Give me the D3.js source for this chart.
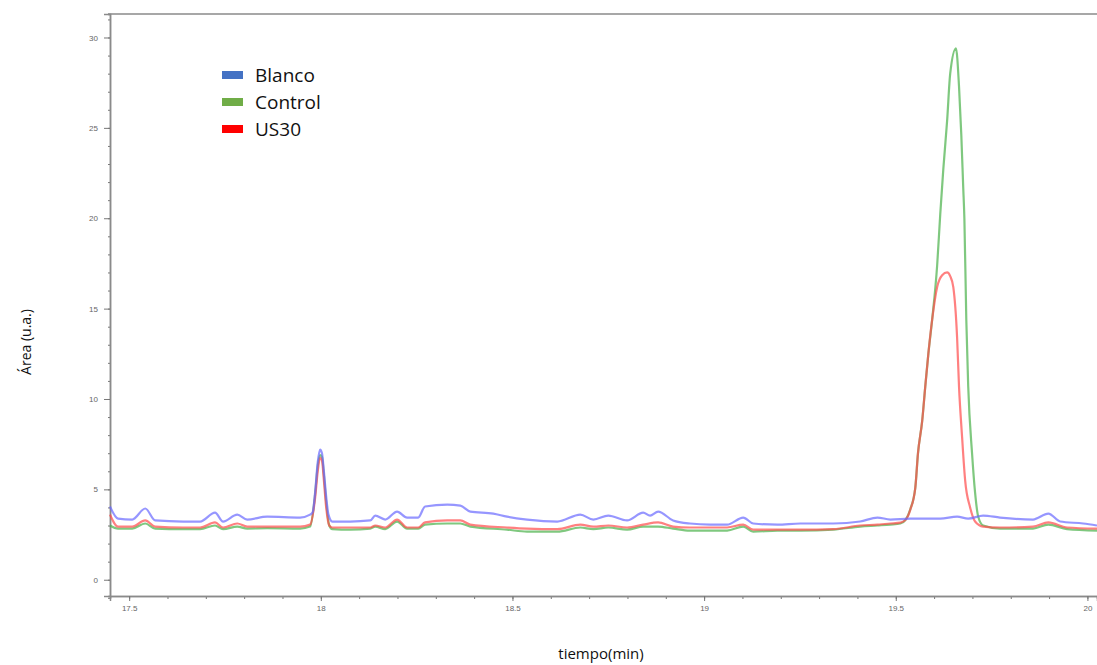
<!DOCTYPE html>
<html>
<head>
<meta charset="utf-8">
<script src="https://cdn.jsdelivr.net/npm/d3@7"></script>
<style>
  body { margin: 0; background: #fff; }
  svg { display: block; }
  .tick text { font-family: "Liberation Sans", sans-serif; font-size: 8px; fill: #666; }
</style>
</head>
<body>
<div id="chart"></div>
<script>
// chromatogram: Blanco / Control / US30
const SERIES = ["Blanco", "Control", "US30"];
const COLORS = { Blanco: "#4472c4", Control: "#70ad47", US30: "#ff0000" };
const LINE_COLORS = { Blanco: "#6a6aff", Control: "#48b048", US30: "#ff4a4a" };

const X_TICKS = [17.5, 18, 18.5, 19, 19.5, 20];
const Y_TICKS = [0, 5, 10, 15, 20, 25, 30];

// [time(min), area]
const blanco = [
  [17.450, 4.05], [17.471, 3.38], [17.508, 3.33], [17.542, 3.94], [17.568, 3.28],
  [17.641, 3.22], [17.685, 3.22], [17.724, 3.71], [17.745, 3.22], [17.782, 3.60],
  [17.808, 3.33], [17.860, 3.49], [17.946, 3.44], [17.972, 3.60], [17.979, 3.75],
  [17.985, 4.8], [17.992, 6.5], [17.998, 7.2], [18.003, 7.0], [18.008, 6.0],
  [18.014, 4.6], [18.020, 3.6], [18.030, 3.22], [18.077, 3.22], [18.129, 3.28],
  [18.142, 3.55], [18.168, 3.33], [18.199, 3.77], [18.225, 3.44], [18.254, 3.44],
  [18.272, 4.05], [18.330, 4.16], [18.364, 4.10], [18.390, 3.77], [18.450, 3.66],
  [18.486, 3.49], [18.538, 3.33], [18.617, 3.22], [18.677, 3.60], [18.711, 3.33],
  [18.750, 3.55], [18.799, 3.28], [18.841, 3.71], [18.859, 3.55], [18.880, 3.77],
  [18.919, 3.28], [18.963, 3.11], [19.016, 3.05], [19.060, 3.05], [19.102, 3.44],
  [19.128, 3.11], [19.191, 3.05], [19.251, 3.11], [19.337, 3.11], [19.407, 3.22],
  [19.452, 3.44], [19.486, 3.33], [19.538, 3.38], [19.616, 3.38], [19.660, 3.49],
  [19.689, 3.38], [19.728, 3.55], [19.772, 3.44], [19.858, 3.33], [19.898, 3.66],
  [19.929, 3.22], [19.989, 3.11], [20.025, 3.00]
];

const control = [
  [17.450, 3.0], [17.471, 2.83], [17.508, 2.83], [17.542, 3.11], [17.568, 2.83],
  [17.641, 2.80], [17.685, 2.80], [17.724, 3.0], [17.745, 2.80], [17.782, 2.94],
  [17.808, 2.83], [17.860, 2.85], [17.946, 2.83], [17.972, 2.94], [17.985, 4.7],
  [17.992, 6.3], [17.998, 6.9], [18.003, 6.8], [18.008, 5.8], [18.014, 4.3],
  [18.022, 3.0], [18.030, 2.80], [18.077, 2.77], [18.129, 2.83], [18.142, 2.94],
  [18.168, 2.80], [18.199, 3.22], [18.225, 2.83], [18.254, 2.83], [18.272, 3.05],
  [18.330, 3.11], [18.364, 3.11], [18.390, 2.94], [18.486, 2.77], [18.538, 2.66],
  [18.617, 2.66], [18.677, 2.89], [18.711, 2.80], [18.750, 2.89], [18.799, 2.77],
  [18.841, 2.94], [18.880, 2.94], [18.919, 2.83], [18.963, 2.72], [19.016, 2.72],
  [19.060, 2.72], [19.102, 2.94], [19.128, 2.66], [19.191, 2.72], [19.251, 2.72],
  [19.337, 2.77], [19.407, 2.94], [19.452, 3.00], [19.486, 3.05], [19.512, 3.11],
  [19.525, 3.3], [19.538, 3.9], [19.551, 5.1], [19.558, 7.0], [19.569, 8.8],
  [19.577, 10.7], [19.585, 12.5], [19.595, 14.4], [19.608, 17.4], [19.616, 20.2],
  [19.624, 22.7], [19.634, 25.4], [19.642, 28.0], [19.657, 29.4], [19.665, 27.3],
  [19.671, 24.6], [19.676, 21.7], [19.679, 20.0], [19.684, 14.4], [19.689, 10.7],
  [19.699, 7.0], [19.707, 4.8], [19.715, 3.5], [19.728, 3.0], [19.772, 2.83],
  [19.858, 2.83], [19.898, 3.05], [19.947, 2.80], [20.025, 2.72]
];

const us30 = [
  [17.450, 3.6], [17.471, 2.94], [17.508, 2.94], [17.542, 3.28], [17.568, 2.94],
  [17.641, 2.89], [17.685, 2.89], [17.724, 3.17], [17.745, 2.89], [17.782, 3.11],
  [17.808, 2.94], [17.860, 2.94], [17.946, 2.94], [17.972, 3.05], [17.985, 4.5],
  [17.992, 6.0], [17.998, 6.75], [18.003, 6.6], [18.008, 5.5], [18.014, 4.0],
  [18.022, 3.0], [18.030, 2.89], [18.077, 2.89], [18.129, 2.89], [18.142, 3.0],
  [18.168, 2.89], [18.199, 3.33], [18.225, 2.89], [18.254, 2.89], [18.272, 3.17],
  [18.330, 3.28], [18.364, 3.28], [18.390, 3.05], [18.486, 2.89], [18.538, 2.83],
  [18.617, 2.80], [18.677, 3.05], [18.711, 2.94], [18.750, 3.0], [18.799, 2.89],
  [18.841, 3.05], [18.880, 3.17], [18.919, 2.94], [18.963, 2.89], [19.016, 2.89],
  [19.060, 2.89], [19.102, 3.05], [19.128, 2.77], [19.191, 2.77], [19.251, 2.77],
  [19.337, 2.80], [19.407, 3.00], [19.452, 3.05], [19.486, 3.11], [19.512, 3.16],
  [19.525, 3.3], [19.538, 3.88], [19.551, 5.1], [19.558, 7.0], [19.569, 8.8],
  [19.577, 10.7], [19.585, 12.5], [19.595, 14.4], [19.608, 16.2], [19.621, 16.85],
  [19.634, 17.0], [19.642, 16.8], [19.650, 16.2], [19.660, 13.4], [19.665, 10.7],
  [19.673, 7.9], [19.681, 5.5], [19.694, 4.0], [19.707, 3.22], [19.728, 2.94],
  [19.772, 2.89], [19.858, 2.94], [19.898, 3.17], [19.947, 2.89], [20.025, 2.83]
];

const DATA = { Blanco: blanco, Control: control, US30: us30 };

const WIDTH = 1097, HEIGHT = 665;
const X0 = 110, X1 = 1097, Y0 = 596, Y1 = 14;

const svg = d3.select("#chart").append("svg")
  .attr("width", WIDTH).attr("height", HEIGHT);

const x = d3.scaleLinear().domain([17.45, 20.025]).range([X0, X1]);
const y = d3.scaleLinear().domain([-0.9, 31.3]).range([Y0, Y1]);

// top frame line
svg.append("line")
  .attr("x1", X0 - 2).attr("x2", X1).attr("y1", Y1).attr("y2", Y1)
  .attr("stroke", "#8a8a8a").attr("stroke-width", 1.5);

// minor ticks
const gMinorX = svg.append("g").attr("transform", `translate(0,${Y0})`)
  .call(d3.axisBottom(x).tickValues(d3.range(17.5, 20.05, 0.1)).tickSize(3).tickFormat(""));
const gMinorY = svg.append("g").attr("transform", `translate(${X0},0)`)
  .call(d3.axisLeft(y).tickValues(d3.range(-1, 32, 1)).tickSize(2).tickFormat(""));

// major ticks + labels
const gX = svg.append("g").attr("transform", `translate(0,${Y0})`)
  .call(d3.axisBottom(x).tickValues(X_TICKS).tickSize(5).tickPadding(4)
    .tickFormat(d => String(d)));
const gY = svg.append("g").attr("transform", `translate(${X0},0)`)
  .call(d3.axisLeft(y).tickValues(Y_TICKS).tickSize(6).tickPadding(6)
    .tickFormat(d => String(d)));

[gMinorX, gMinorY, gX, gY].forEach(g => {
  g.select(".domain").attr("stroke", "#8a8a8a").attr("stroke-width", 1.5);
  g.selectAll(".tick line").attr("stroke", "#777");
});

// lines
const line = d3.line()
  .x(d => x(d[0]))
  .y(d => y(d[1]))
  .curve(d3.curveMonotoneX);

const gLines = svg.append("g");
["Control", "US30", "Blanco"].forEach(name => {
  gLines.append("path")
    .datum(DATA[name])
    .attr("fill", "none")
    .attr("stroke", LINE_COLORS[name])
    .attr("stroke-width", 2.2)
    .attr("stroke-opacity", 0.7)
    .attr("stroke-linejoin", "round")
    .attr("d", line);
});

// legend
const legend = svg.append("g").attr("transform", "translate(222,75)");
SERIES.forEach((name, i) => {
  const row = legend.append("g").attr("transform", `translate(0,${i * 27})`);
  row.append("rect")
    .attr("x", 0).attr("y", -4).attr("width", 21).attr("height", 8)
    .attr("fill", COLORS[name]);
  row.append("text")
    .attr("x", 33).attr("y", 6.5)
    .attr("font-family", "'Open Sans', sans-serif")
    .attr("font-size", 19)
    .attr("fill", "#111")
    .text(name);
});

// axis titles
svg.append("text")
  .attr("x", 601).attr("y", 659)
  .attr("text-anchor", "middle")
  .attr("font-family", "'Open Sans', sans-serif")
  .attr("font-size", 15)
  .attr("fill", "#111")
  .text("tiempo(min)");

svg.append("text")
  .attr("transform", "translate(31,342) rotate(-90)")
  .attr("text-anchor", "middle")
  .attr("font-family", "'Open Sans', sans-serif")
  .attr("font-size", 14)
  .attr("fill", "#111")
  .text("Área (u.a.)");
</script>
</body>
</html>
